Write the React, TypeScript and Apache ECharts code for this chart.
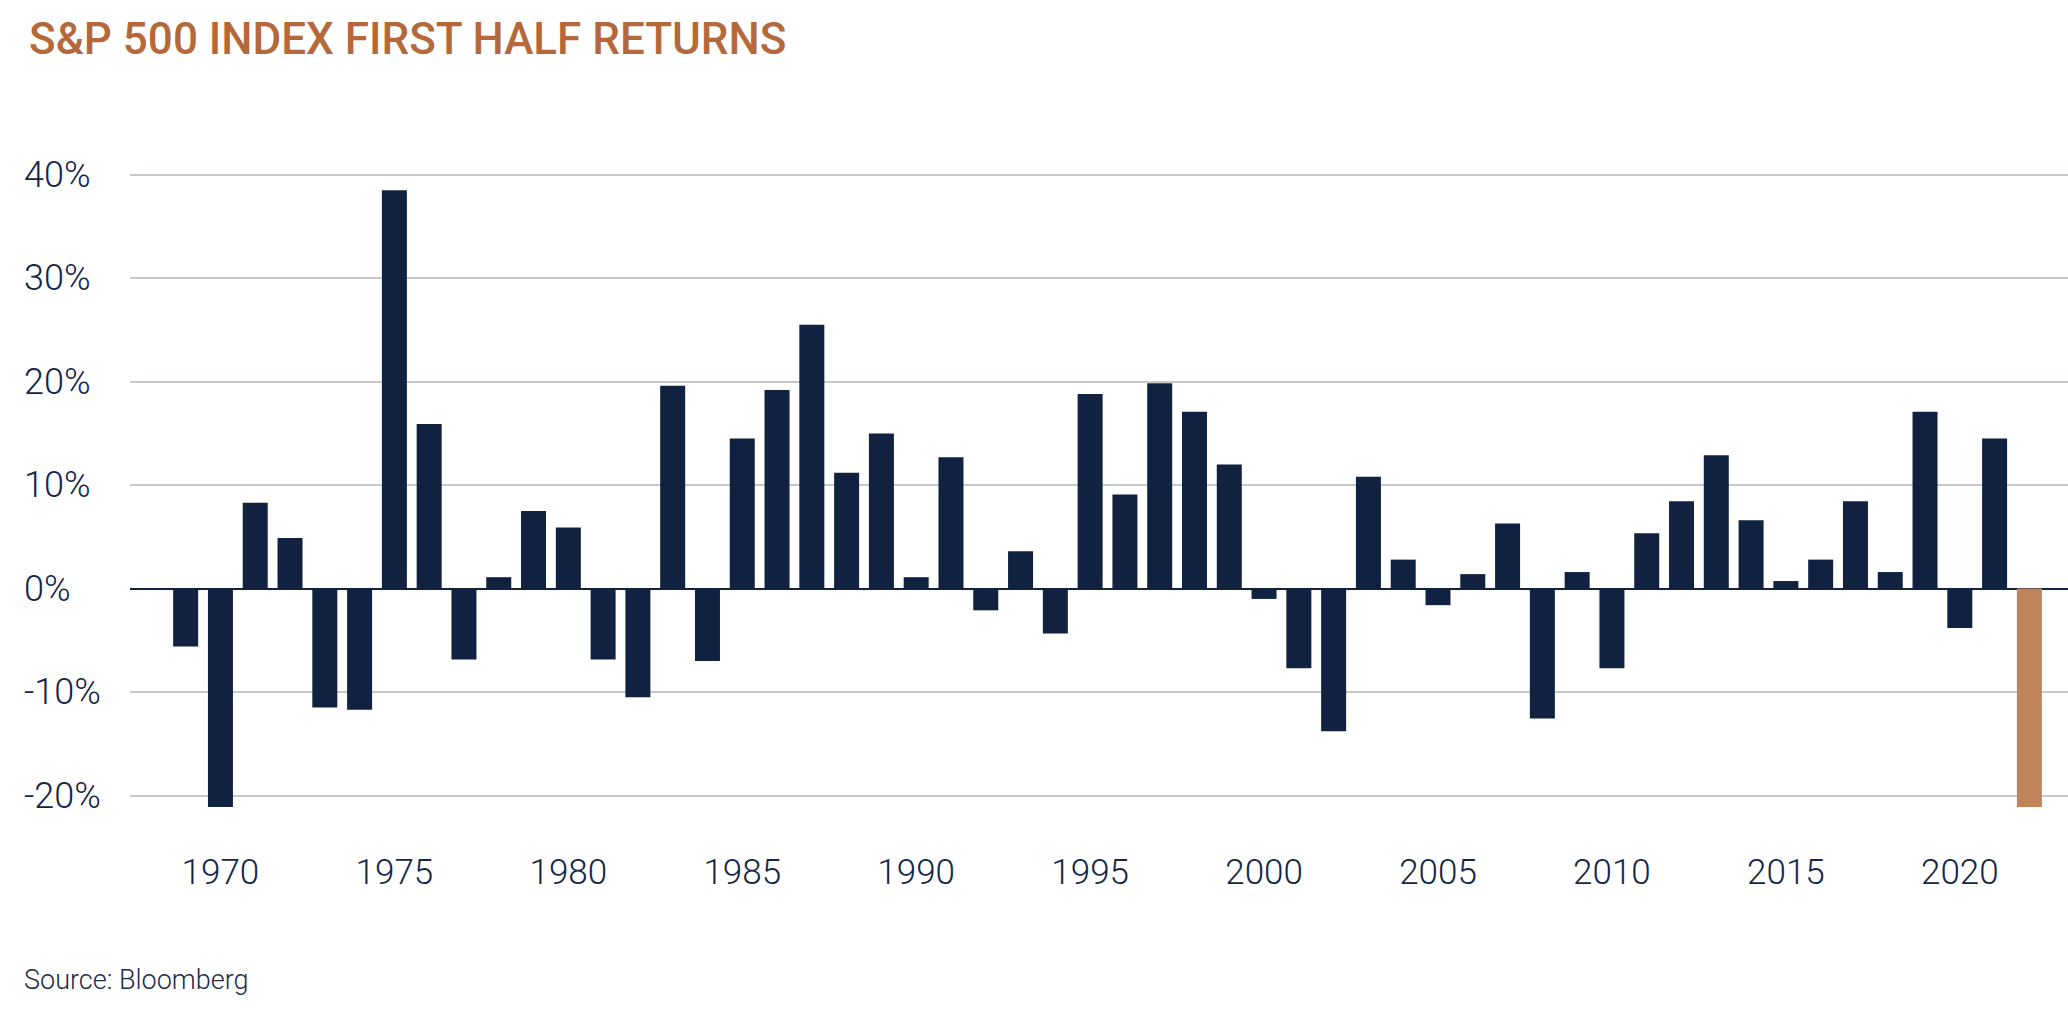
import React, { useEffect, useRef } from "react";
import * as echarts from "echarts";

const years: number[] = [
  1969, 1970, 1971, 1972, 1973, 1974, 1975, 1976, 1977, 1978,
  1979, 1980, 1981, 1982, 1983, 1984, 1985, 1986, 1987, 1988,
  1989, 1990, 1991, 1992, 1993, 1994, 1995, 1996, 1997, 1998,
  1999, 2000, 2001, 2002, 2003, 2004, 2005, 2006, 2007, 2008,
  2009, 2010, 2011, 2012, 2013, 2014, 2015, 2016, 2017, 2018,
  2019, 2020, 2021, 2022,
];

const returns: number[] = [
  -5.6, -21.1, 8.3, 4.9, -11.5, -11.7, 38.5, 15.9, -6.85, 1.1,
  7.5, 5.9, -6.85, -10.5, 19.6, -7.0, 14.5, 19.2, 25.5, 11.2,
  15.0, 1.1, 12.7, -2.1, 3.6, -4.35, 18.8, 9.1, 19.85, 17.1,
  12.0, -1.0, -7.7, -13.8, 10.8, 2.8, -1.6, 1.4, 6.3, -12.55,
  1.6, -7.7, 5.35, 8.45, 12.9, 6.6, 0.73, 2.8, 8.45, 1.6,
  17.1, -3.8, 14.5, -21.1,
];

const highlightYear = 2022;
const xTickYears: number[] = [1970, 1975, 1980, 1985, 1990, 1995, 2000, 2005, 2010, 2015, 2020];
const yTicks: number[] = [-20, -10, 0, 10, 20, 30, 40];

const NAVY = "#10223f";
const COPPER = "#c1845a";
const GRID = "#c4c9cb";

export default function App() {
  const ref = useRef<HTMLDivElement>(null);

  useEffect(() => {
    if (!ref.current) return;
    const chart = echarts.init(ref.current, undefined, { renderer: "svg" });

    const data = years.map((y, i) =>
      y === highlightYear
        ? { value: [y, returns[i]], itemStyle: { color: COPPER } }
        : { value: [y, returns[i]] }
    );

    const splitColors = yTicks.map((t) => (t === 0 ? NAVY : GRID));

    chart.setOption({
      animation: false,
      backgroundColor: "#ffffff",
      title: {
        text: "S&P 500 INDEX FIRST HALF RETURNS",
        left: 24,
        top: 12,
        textStyle: {
          fontFamily: "Roboto",
          fontWeight: 500,
          fontSize: 44,
          color: "#b5693a",
        },
      },
      graphic: [
        {
          type: "text",
          left: 24,
          top: 966,
          style: {
            text: "Source: Bloomberg",
            fontFamily: "Roboto",
            fontWeight: 300,
            fontSize: 27,
            fill: "#1d2b4c",
          },
        },
      ],
      grid: {
        left: 130,
        right: 0,
        top: 174.8,
        bottom: 225.5,
        containLabel: false,
      },
      xAxis: {
        type: "value",
        min: 1967.4,
        max: 2023.11,
        axisLine: { show: false },
        axisTick: { show: false },
        splitLine: { show: false },
        axisLabel: {
          customValues: xTickYears,
          formatter: (v: number) => String(v),
          fontFamily: "Roboto",
          fontWeight: 300,
          fontSize: 35,
          color: "#13254a",
          margin: 77,
          verticalAlign: "middle",
        },
      },
      yAxis: {
        type: "value",
        min: -20,
        max: 40,
        interval: 10,
        axisLine: { show: false },
        axisTick: { show: false },
        splitLine: {
          show: true,
          lineStyle: { color: splitColors, width: 2 },
        },
        axisLabel: {
          formatter: (v: number) => `${v}%`,
          fontFamily: "Roboto",
          fontWeight: 300,
          fontSize: 36,
          color: "#13254a",
          align: "left",
          margin: 106,
          padding: [0, 0, 12, 0],
        },
      },
      series: [
        {
          type: "bar",
          data,
          barWidth: 25,
          clip: false,
          itemStyle: { color: NAVY },
        },
      ],
    });

    return () => chart.dispose();
  }, []);

  return (
    <div
      ref={ref}
      style={{ position: "fixed", left: 0, top: 0, width: 2068, height: 1021 }}
    />
  );
}
